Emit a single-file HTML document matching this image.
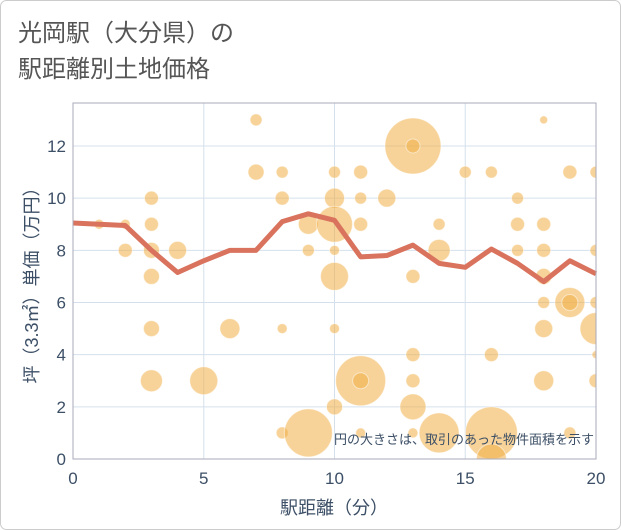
<!DOCTYPE html>
<html><head><meta charset="utf-8"><style>
html,body{margin:0;padding:0;background:#fff}
svg{display:block}
text{font-family:"Liberation Sans","Noto Sans CJK JP",sans-serif}
</style></head><body>
<svg id="chart" width="621" height="530" xmlns="http://www.w3.org/2000/svg">
<rect x="0.5" y="0.5" width="620" height="529" rx="6" fill="#fff" stroke="#ccc"/>
<text x="18" y="41" font-size="24" fill="#555">光岡駅（大分県）の</text>
<text x="18" y="77" font-size="24" fill="#555">駅距離別土地価格</text>
<defs><clipPath id="clip"><rect x="73" y="103" width="523" height="356"/></clipPath></defs>
<g id="grid"></g>
<g id="bubbles" clip-path="url(#clip)"></g>
<g id="line"></g>
<rect x="73" y="103" width="523" height="356" fill="none" stroke="#aab"/>
<g id="ticks"></g>
<text x="334" y="514" font-size="18" fill="#3c4f66" text-anchor="middle">駅距離（分）</text>
<text transform="translate(38,281) rotate(-90)" font-size="18" fill="#3c4f66" text-anchor="middle">坪（3.3㎡）単価（万円）</text>
<text x="594" y="444" font-size="13" fill="#3c4f66" text-anchor="end">円の大きさは、取引のあった物件面積を示す</text>
</svg>
<script>
const xTicks=[0,5,10,15,20];
const yTicks=[0,2,4,6,8,10,12];
const bubbleX=[1,2,2,3,3,3,3,4,3,3,5,6,7,7,8,8,8,8,9,9,9,10,10,10,10,10,10,10,11,11,11,11,12,11,13,13,13,13,13,13,14,14,14,15,16,16,16,16,17,17,17,18,18,18,18,18,18,18,19,19,19,20,20,20,20,20,20,11,13,19];
const bubbleY=[9,9,8,10,9,8,7,8,5,3,3,5,13,11,11,10,5,1,9,8,1,11,10,9,8,7,5,2,3,11,10,9,10,1,12,7,4,3,2,1,9,8,1,11,11,4,1,0,10,9,8,13,9,8,7,6,5,3,11,6,1,11,8,6,5,4,3,3,12,6];
const bubbleR=[5,5,7,7,7,8,8,9,8,11,14,10,6,8,6,7,5,6,10,6,24,6,10,18,5,14,5,8,25,7,6,7,9,5,28,7,7,7,13,5,6,11,20,6,6,7,26,15,6,7,6,4,7,7,8,6,9,10,7,15,6,6,6,6,16,4,7,8,7,8];
const lineX=[0,1,2,3,4,5,6,7,8,9,10,11,12,13,14,15,16,17,18,19,20];
const lineY=[9.05,9.0,8.95,8.0,7.15,7.6,8.0,8.0,9.1,9.4,9.15,7.75,7.8,8.2,7.5,7.35,8.05,7.5,6.8,7.6,7.1];
const NS="http://www.w3.org/2000/svg";
const X0=73,X1=596,Y0=459,Y12=146;
const sx=v=>X0+(X1-X0)*v/20;
const sy=v=>Y0-(Y0-Y12)*v/12;
function mk(tag,attrs,parent){const e=document.createElementNS(NS,tag);for(const k in attrs)e.setAttribute(k,attrs[k]);parent.appendChild(e);return e;}
const grid=document.getElementById('grid'),ticks=document.getElementById('ticks');
xTicks.forEach(t=>{
 const l=mk('line',{x1:sx(t),x2:sx(t),y1:103,y2:459,stroke:'#d5e0ec','stroke-width':1},grid);
 
 
 const tx=mk('text',{x:sx(t),y:484,'font-size':17,fill:'#3c4f66','text-anchor':'middle'},ticks);
 tx.textContent=t;
 
 
});
yTicks.forEach(t=>{
 const l=mk('line',{x1:73,x2:596,y1:sy(t),y2:sy(t),stroke:'#d5e0ec','stroke-width':1},grid);
 
 
 const tx=mk('text',{x:66,y:sy(t)+6,'font-size':17,fill:'#3c4f66','text-anchor':'end'},ticks);
 tx.textContent=t;
 
 
});
const bg=document.getElementById('bubbles');
bubbleX.forEach((x,i)=>{
 const c=mk('circle',{cx:sx(x),cy:sy(bubbleY[i]),r:bubbleR[i],fill:'rgba(240,175,70,0.55)',stroke:'rgba(255,255,255,0.5)','stroke-width':1},bg);
 
 
});
const pts=lineX.map((x,i)=>sx(x)+','+sy(lineY[i])).join(' ');
const pl=mk('polyline',{points:pts,fill:'none',stroke:'#d9735e','stroke-width':5,'stroke-linejoin':'round'},document.getElementById('line'));


</script>
</body></html>
